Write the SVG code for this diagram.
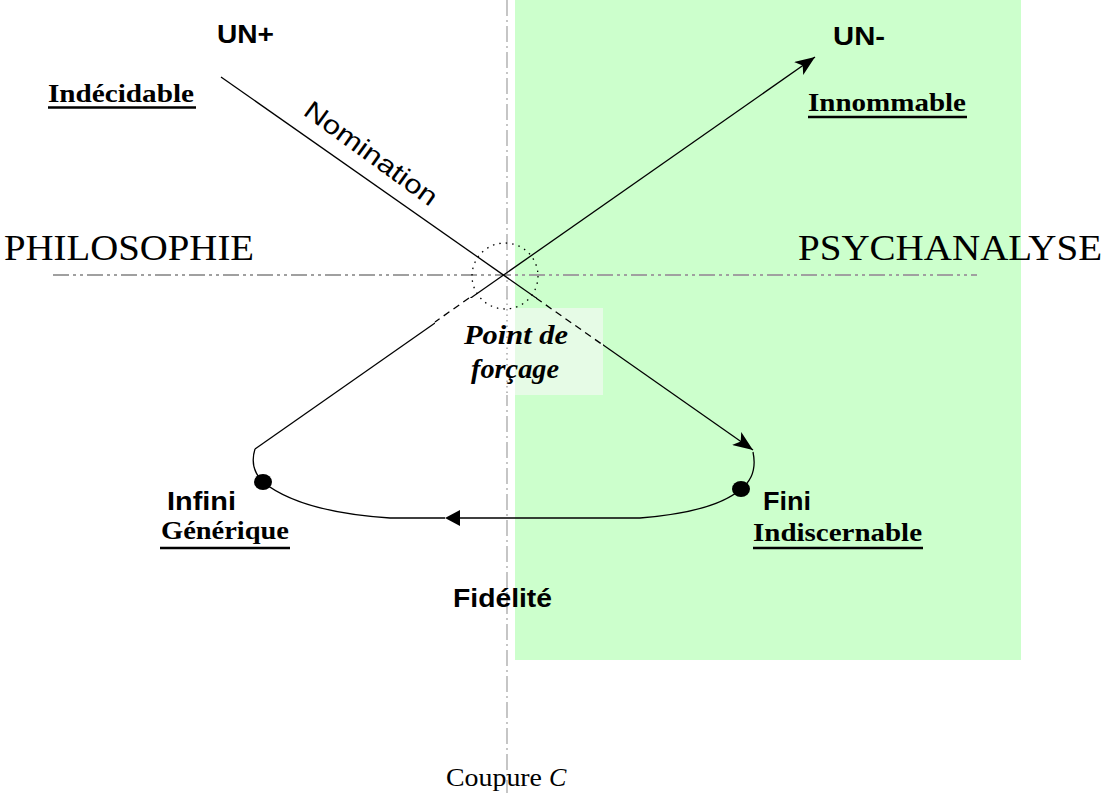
<svg xmlns="http://www.w3.org/2000/svg" width="1104" height="793" viewBox="0 0 1104 793">
<style>
.sans{font-family:"Liberation Sans",Arial,sans-serif;font-weight:bold;fill:#000}
.ser{font-family:"Liberation Serif","Times New Roman",serif;fill:#000}
.ul{font-family:"Liberation Serif","Times New Roman",serif;font-weight:bold;fill:#000;font-size:26px}
.uline{stroke:#000;stroke-width:2.5}
.axis{stroke:#a0a0a0;fill:none}
.conn{stroke:#000;stroke-width:1.3;fill:none}
.dash{stroke:#000;stroke-width:1.3;fill:none;stroke-dasharray:7 5}
</style>
<defs>
<marker id="arr" viewBox="0 0 20 16" refX="20" refY="8" markerWidth="20" markerHeight="16" markerUnits="userSpaceOnUse" orient="auto">
<path d="M0,0 L20,8 L0,16 L5,8 z" fill="#000"/>
</marker>
</defs>
<rect width="1104" height="793" fill="#fff"/>
<g id="background">
<rect x="515" y="0" width="506" height="660" fill="#ccffcc"/>
</g>
<g id="axes">
<line class="axis" x1="53" y1="275" x2="977" y2="275" stroke-width="2" stroke-dasharray="16 4 3 4 3 4"/>
<line class="axis" x1="507" y1="0" x2="507" y2="793" stroke-width="1.2" stroke="#909090" stroke-dasharray="16 4 2 4"/>
</g>
<g id="connectors">
<line class="conn" x1="221" y1="77" x2="753" y2="450" marker-end="url(#arr)"/>
<line class="conn" x1="255" y1="449" x2="815" y2="57" marker-end="url(#arr)"/>
<path class="conn" d="M255,449 Q249,468 263,482 Q300,512 390,518 L445,518"/>
<path class="conn" d="M753,452 Q758,476 741,489 Q715,512 640,518 L458,518"/>
<path d="M445,518 L460,510 L460,526 z" fill="#000"/>
<ellipse cx="263" cy="482" rx="9" ry="8" fill="#000"/>
<ellipse cx="741" cy="489" rx="9" ry="8" fill="#000"/>
</g>
<g id="forcage-box">
<rect x="435" y="298" width="80" height="97" fill="#fff"/>
<rect x="515" y="308" width="88" height="87" fill="#e6fbe6"/>
<rect x="515" y="298" width="88" height="10" fill="#ccffcc"/>
<line x1="507" y1="298" x2="507" y2="395" stroke="#909090" stroke-width="1.2" stroke-dasharray="1.5 4"/>
<line class="dash" x1="536" y1="298" x2="603" y2="345"/>
<line class="dash" x1="469" y1="298" x2="435" y2="322"/>
<circle cx="505" cy="276" r="33" fill="none" stroke="#000" stroke-width="1.3" stroke-dasharray="1.5 5"/>
</g>
<g id="point-forcage">
<text class="ser" x="464" y="344" font-size="27" font-weight="bold" font-style="italic" textLength="104" lengthAdjust="spacingAndGlyphs">Point de</text>
<text class="ser" x="471" y="378" font-size="27" font-weight="bold" font-style="italic" textLength="88" lengthAdjust="spacingAndGlyphs">forçage</text>
</g>
<g id="un-plus">
<text class="sans" x="217" y="43" font-size="25" textLength="57" lengthAdjust="spacingAndGlyphs">UN+</text>
</g>
<g id="indecidable">
<text class="ul" x="48" y="102" textLength="146" lengthAdjust="spacingAndGlyphs">Indécidable</text>
<line class="uline" x1="48" y1="107.5" x2="196" y2="107.5"/>
</g>
<g id="un-minus">
<text class="sans" x="833" y="45" font-size="25" textLength="52" lengthAdjust="spacingAndGlyphs">UN-</text>
</g>
<g id="innommable">
<text class="ul" x="808" y="111" textLength="158" lengthAdjust="spacingAndGlyphs">Innommable</text>
<line class="uline" x1="808" y1="117" x2="967" y2="117"/>
</g>
<g id="nomination">
<text class="sans" font-size="26" transform="translate(302,114) rotate(36)" textLength="158" lengthAdjust="spacingAndGlyphs" style="font-weight:normal">Nomination</text>
</g>
<g id="philosophie">
<text class="ser" x="4" y="260" font-size="35" textLength="250" lengthAdjust="spacingAndGlyphs">PHILOSOPHIE</text>
</g>
<g id="psychanalyse">
<text class="ser" x="798" y="260" font-size="35" textLength="304" lengthAdjust="spacingAndGlyphs">PSYCHANALYSE</text>
</g>
<g id="infini">
<text class="sans" x="167" y="510" font-size="25" textLength="69" lengthAdjust="spacingAndGlyphs">Infini</text>
<text class="ul" x="161" y="539" textLength="128" lengthAdjust="spacingAndGlyphs">Générique</text>
<line class="uline" x1="160" y1="548" x2="290" y2="548"/>
</g>
<g id="fini">
<text class="sans" x="763" y="510" font-size="25" textLength="48" lengthAdjust="spacingAndGlyphs">Fini</text>
<text class="ul" x="753" y="541" textLength="169" lengthAdjust="spacingAndGlyphs">Indiscernable</text>
<line class="uline" x1="753" y1="548" x2="923" y2="548"/>
</g>
<g id="fidelite">
<text class="sans" x="453" y="607" font-size="25" textLength="99" lengthAdjust="spacingAndGlyphs">Fidélité</text>
</g>
<g id="coupure">
<text class="ser" x="446" y="786" font-size="26" textLength="96" lengthAdjust="spacingAndGlyphs">Coupure</text>
<text class="ser" x="549" y="786" font-size="26" font-style="italic">C</text>
</g>
</svg>
